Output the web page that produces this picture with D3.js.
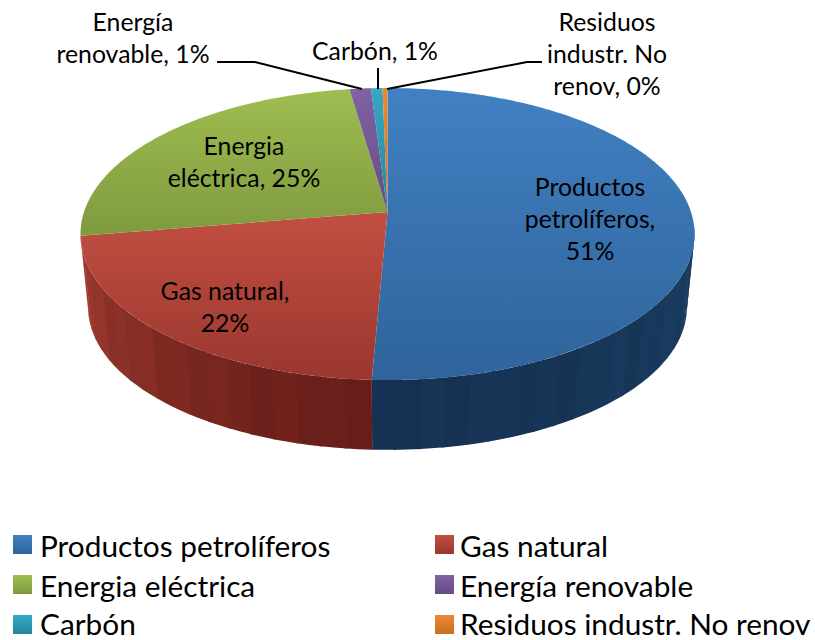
<!DOCTYPE html>
<html><head><meta charset="utf-8">
<script src="https://cdn.jsdelivr.net/npm/d3@7"></script>
<style>html,body{margin:0;padding:0;background:#fff}svg{display:block}text{font-family:Lato,Carlito,"Open Sans",sans-serif;fill:#000}</style>
</head><body><svg id="c" width="815" height="640"></svg>
<script>
// Data
const categories = ["Productos petrolíferos","Gas natural","Energia eléctrica","Energía renovable","Carbón","Residuos industr. No renov"];
const values = [50.7,21.7,25.3,1.3,0.7,0.3];
const labelLines = [["Productos","petrolíferos,","51%"],["Gas natural,","22%"],["Energia","eléctrica, 25%"],["Energía","renovable, 1%"],["Carbón, 1%"],["Residuos","industr. No","renov, 0%"]];
const topColors = ["#4180c2","#c24f42","#9fbd50","#8063a2","#35a8c4","#ec8a32"];
const bottomColors = ["#2f649b","#9a372f","#7f9a3f","#644c85","#27859c","#c86f22"];
const wallFrom = ["#163152","#651c18"];
const wallTo = ["#1b3f63","#ab4236"];
const stripes = [0,.05,-.03,.07,-.06,.02,.08,-.05,.04,-.07,.06,-.02,.03,-.08,.05,-.04];

const svg = d3.select("#c"), defs = svg.append("defs");
const cx = 387.5, apexY = 212, k = 0.151, S = 142.7, R = 303.5;
const depthScale = 0.975, apexY2 = 286;

function topPt(a){const X=Math.sin(a),Y=Math.cos(a),w=1+k*Y;return [cx+R*X/w, apexY-S*Y/w];}
function botPt(a){const X=Math.sin(a),Y=Math.cos(a),w=1+k*Y;return [cx+depthScale*R*X/w, apexY2-depthScale*S*Y/w];}
const line = d3.line();
const arcs = d3.pie().value(d=>d).sort(null)(values);
const steps = (a0,a1,n)=>d3.range(n+1).map(i=>a0+(a1-a0)*i/n);

// Side wall
const wallG = svg.append("g");
const visMin = Math.PI/2 + 0.08, visMax = 3*Math.PI/2 - 0.16;
[0,1].forEach(i=>{
  const a0=Math.max(arcs[i].startAngle,visMin), a1=Math.min(arcs[i].endAngle,visMax);
  const n=Math.round((a1-a0)/0.07);
  const col=d3.interpolateRgb(wallFrom[i],wallTo[i]);
  const out=[];
  d3.range(n).forEach(j=>{
    const b0=a0+(a1-a0)*j/n,b1=a0+(a1-a0)*(j+1)/n;
    const front=Math.abs(((b0+b1)/2)-Math.PI)/(Math.PI/2);
    const t=Math.min(1,Math.pow(front,1.25));
    const base=d3.rgb(col(t));
    const s=1+stripes[j%stripes.length]*0.45;
    out.push({b0,b1,fill:d3.rgb(base.r*s,base.g*s,base.b*s).formatHex()});
  });
  out.forEach(o=>{
    // extend each facet under the next to avoid hairline seams
    const pts=[...steps(o.b0,Math.min(a1,o.b1+0.01),4).map(topPt),...steps(Math.min(a1,o.b1+0.01),o.b0,4).map(botPt)];
    wallG.append("path").attr("d",line(pts)+"Z").attr("fill",o.fill);
  });
});

// Top surface
const topG = svg.append("g");
arcs.forEach((d,i)=>{
  const id="g"+i,g=defs.append("linearGradient").attr("id",id).attr("x1",0).attr("x2",0).attr("y1",0).attr("y2",1);
  g.append("stop").attr("offset",0).attr("stop-color",topColors[i]);
  g.append("stop").attr("offset",1).attr("stop-color",bottomColors[i]);
  const n=Math.max(4,Math.ceil((d.endAngle-d.startAngle)/0.01));
  const pts=[[cx,apexY],...steps(d.startAngle,d.endAngle,n).map(topPt)];
  topG.append("path").attr("d",line(pts)+"Z").attr("fill",`url(#${id})`);
});

// Leader lines
const leaders=[[[217,62],[255,62],[362,89]],[[378,68],[378,89]],[[387,89],[527,62],[542,62]]];
svg.append("g").selectAll("path").data(leaders).join("path").attr("d",d=>line(d)).attr("fill","none").attr("stroke","#000").attr("stroke-width",2);

// Labels
const labelAt=[[590,196],[225,300],[244,155],[133,31],[375,60],[607,31]];
labelLines.forEach((ls,i)=>{
  ls.forEach((t,j)=>svg.append("text").attr("x",labelAt[i][0]).attr("y",labelAt[i][1]+j*32)
    .attr("text-anchor","middle").attr("font-size",24.8).text(t));
});

// Legend
const legendX=[13,435], textX=[40,460], rowY=[535,575,615], baseY=[557,597,635];
categories.forEach((c,i)=>{
  const col=i%2,row=Math.floor(i/2);
  svg.append("rect").attr("x",legendX[col]).attr("y",rowY[row]).attr("width",19).attr("height",19).attr("fill",`url(#g${i})`);
  svg.append("text").attr("x",textX[col]).attr("y",baseY[row]).attr("font-size",29.8).text(c);
});
</script></body></html>
